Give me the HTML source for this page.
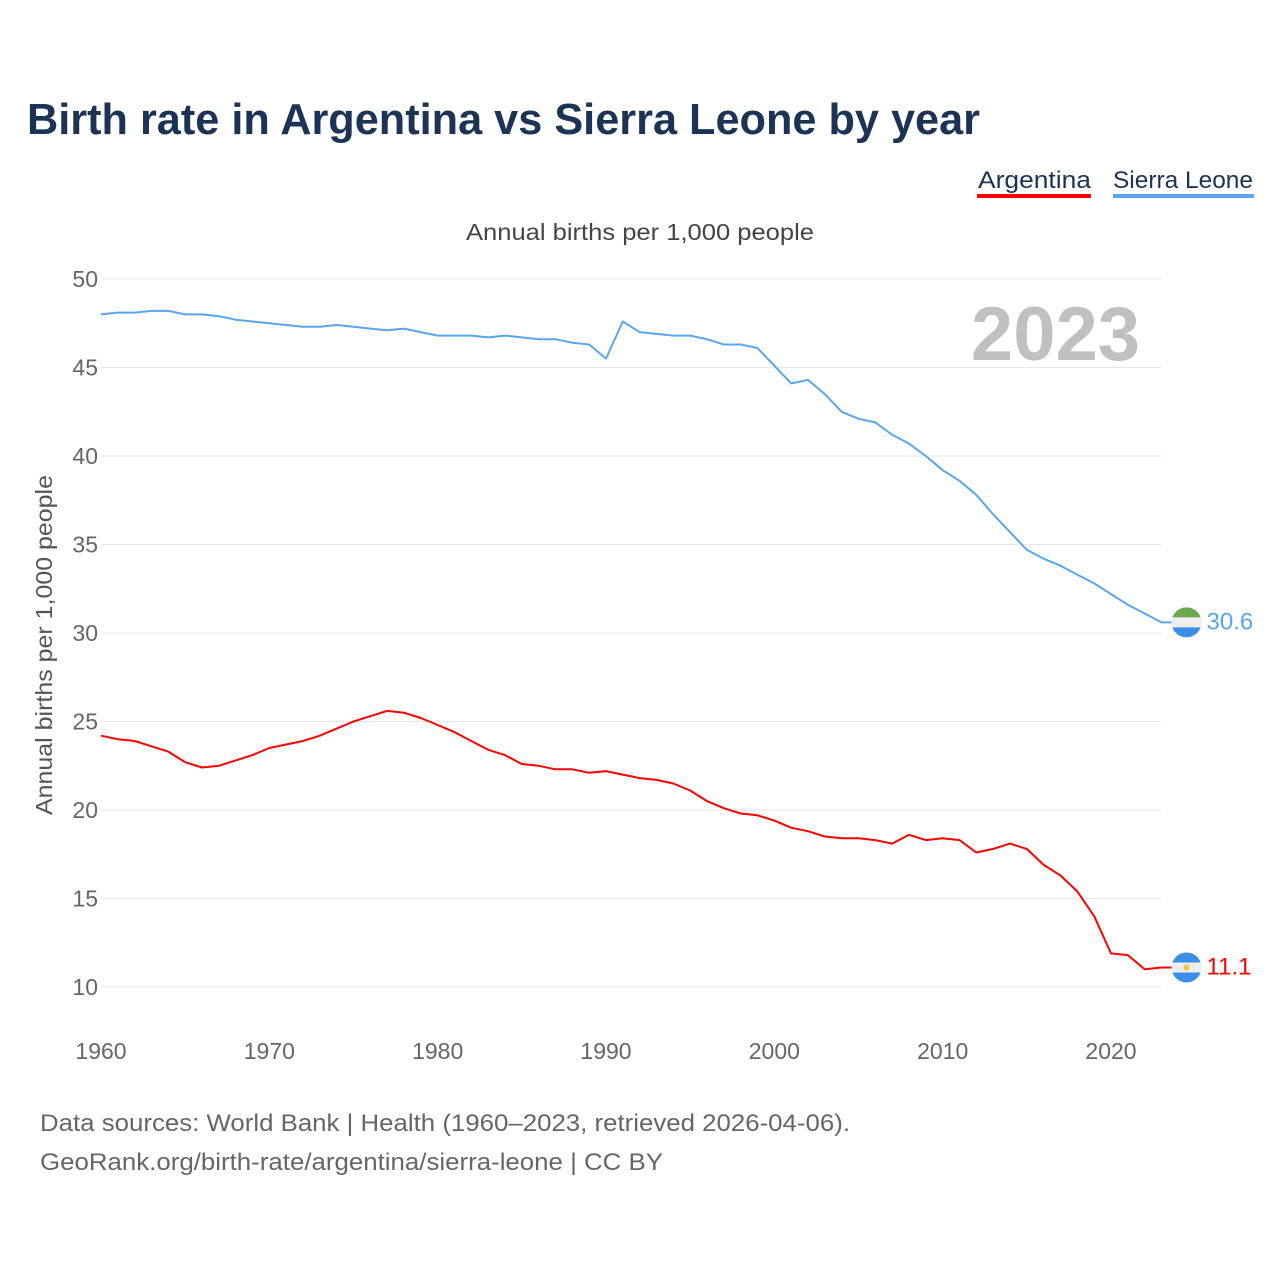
<!DOCTYPE html>
<html><head><meta charset="utf-8"><style>
body{margin:0;background:#fff;font-family:"Liberation Sans",sans-serif;}
svg text{font-family:"Liberation Sans",sans-serif;}
</style></head><body>
<svg id="chart" width="1280" height="1280">
<text x="27" y="134" font-size="44" font-weight="bold" fill="#1b3354" textLength="953" lengthAdjust="spacingAndGlyphs">Birth rate in Argentina vs Sierra Leone by year</text>
<g><text x="978" y="188" font-size="24" fill="#1b3354" textLength="113" lengthAdjust="spacingAndGlyphs">Argentina</text><rect x="977" y="194" width="114" height="4" fill="#ff0000"/></g>
<g><text x="1113" y="188" font-size="24" fill="#1b3354" textLength="140" lengthAdjust="spacingAndGlyphs">Sierra Leone</text><rect x="1113" y="194" width="141" height="4" fill="#5aa6ec"/></g>
<text x="466" y="240" font-size="23" fill="#444" textLength="348" lengthAdjust="spacingAndGlyphs">Annual births per 1,000 people</text>
<text x="52" y="645" font-size="23" fill="#555" text-anchor="middle" textLength="340" lengthAdjust="spacingAndGlyphs" transform="rotate(-90 52 645)">Annual births per 1,000 people</text>
<text x="1140" y="360" font-size="76" font-weight="bold" fill="#c0c0c0" text-anchor="end">2023</text>
<g id="grid"></g><g id="series"></g>
<text x="40" y="1131" font-size="24" fill="#666" textLength="810" lengthAdjust="spacingAndGlyphs">Data sources: World Bank | Health (1960–2023, retrieved 2026-04-06).</text>
<text x="40" y="1170" font-size="24" fill="#666" textLength="623" lengthAdjust="spacingAndGlyphs">GeoRank.org/birth-rate/argentina/sierra-leone | CC BY</text>
</svg>
<script>
const years=[];for(let y=1960;y<=2023;y++)years.push(y);
const sierraLeone=[48.0,48.1,48.1,48.2,48.2,48.0,48.0,47.9,47.7,47.6,47.5,47.4,47.3,47.3,47.4,47.3,47.2,47.1,47.2,47.0,46.8,46.8,46.8,46.7,46.8,46.7,46.6,46.6,46.4,46.3,45.5,47.6,47.0,46.9,46.8,46.8,46.6,46.3,46.3,46.1,45.1,44.1,44.3,43.5,42.5,42.1,41.9,41.2,40.7,40.0,39.2,38.6,37.8,36.7,35.7,34.7,34.2,33.8,33.3,32.8,32.2,31.6,31.1,30.6];
const argentina=[24.2,24.0,23.9,23.6,23.3,22.7,22.4,22.5,22.8,23.1,23.5,23.7,23.9,24.2,24.6,25.0,25.3,25.6,25.5,25.2,24.8,24.4,23.9,23.4,23.1,22.6,22.5,22.3,22.3,22.1,22.2,22.0,21.8,21.7,21.5,21.1,20.5,20.1,19.8,19.7,19.4,19.0,18.8,18.5,18.4,18.4,18.3,18.1,18.6,18.3,18.4,18.3,17.6,17.8,18.1,17.8,16.9,16.3,15.4,14.0,11.9,11.8,11.0,11.1];
const yTicks=[10,15,20,25,30,35,40,45,50];
const xTicks=[1960,1970,1980,1990,2000,2010,2020];
const NS="http://www.w3.org/2000/svg";
const X=v=>101+(v-1960)*(1010/60);
const Y=v=>987-(v-10)*17.7;
const grid=document.getElementById('grid'),ser=document.getElementById('series');
function mk(tag,attrs,parent,txt){const e=document.createElementNS(NS,tag);for(const k in attrs)e.setAttribute(k,attrs[k]);if(txt!==undefined)e.textContent=txt;parent.appendChild(e);return e;}
yTicks.forEach(t=>{
 const l=mk('line',{x1:101,x2:1161,y1:Y(t),y2:Y(t),stroke:'#e6e6e6','stroke-width':1},grid);
 
 
 const tx=mk('text',{x:98,y:Y(t)+8,'font-size':23,fill:'#666','text-anchor':'end'},grid,t);
 
 
});
xTicks.forEach(t=>{
 const tx=mk('text',{x:X(t),y:1059,'font-size':23,fill:'#666','text-anchor':'middle'},grid,t);
 
 
});
function line(vals,color,name){
 const d=vals.map((v,i)=>(i?'L':'M')+X(years[i]).toFixed(1)+','+Y(v).toFixed(1)).join('');
 const p=mk('path',{d:d,fill:'none',stroke:color,'stroke-width':2,'stroke-linejoin':'round'},ser);
 
 
 const last=vals[vals.length-1],ly=Y(last),lx=X(years[years.length-1]);
 mk('line',{x1:lx,x2:lx+12,y1:ly,y2:ly,stroke:color,'stroke-width':2},ser);
 const g=mk('g',{},ser);
 
 
 const cx=lx+25;
 const cp=mk('clipPath',{id:'c'+name},g);mk('circle',{cx:cx,cy:ly,r:15},cp);
 const top=name==='sierra-leone'?'#6aa84f':'#3d8ee8',bot='#3d8ee8';
 mk('rect',{x:cx-15,y:ly-15,width:30,height:10,fill:top,'clip-path':'url(#c'+name+')'},g);
 mk('rect',{x:cx-15,y:ly-5,width:30,height:10,fill:'#eeeeee','clip-path':'url(#c'+name+')'},g);
 mk('rect',{x:cx-15,y:ly+5,width:30,height:10,fill:bot,'clip-path':'url(#c'+name+')'},g);
 if(name==='argentina')mk('circle',{cx:cx,cy:ly,r:3,fill:'#f5c542'},g);
 const tx=mk('text',{x:lx+45,y:ly+7,'font-size':24,fill:color},ser,last.toFixed(1));
 
 
}
line(sierraLeone,'#5aa6ec','sierra-leone');
line(argentina,'#ff0000','argentina');
</script>
</body></html>
